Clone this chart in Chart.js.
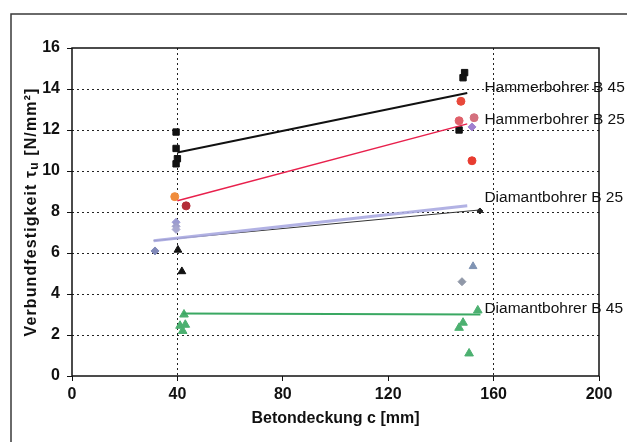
<!DOCTYPE html>
<html>
<head>
<meta charset="utf-8">
<script src="https://cdn.jsdelivr.net/npm/chart.js@4.4.0/dist/chart.umd.min.js"></script>
<style>
  html, body { margin: 0; padding: 0; background: #fff; }
</style>
</head>
<body>
<canvas id="chart" width="627" height="442"></canvas>
<script>
// Betondeckung c [mm] / Verbundfestigkeit tau_u [N/mm²]
const xTicks = [0, 40, 80, 120, 160, 200];
const yTicks = [0, 2, 4, 6, 8, 10, 12, 14, 16];

// Hammerbohrer B 45
const hb45X = [39.5, 39.5, 40, 39.5, 149, 148.4, 146.9];
const hb45Y = [11.9, 11.1, 10.6, 10.35, 14.8, 14.55, 12.0];
const hb45LineX = [40, 150];
const hb45LineY = [10.9, 13.8];

// Hammerbohrer B 25
const hb25X = [39, 43.3, 147.6, 146.9, 152.6, 151.8];
const hb25Y = [8.75, 8.3, 13.4, 12.45, 12.6, 10.5];
const hb25Colors = ['#f08c3c', '#b42c38', '#e8483a', '#e0606a', '#d4707e', '#e83c30'];
const hb25LineX = [40, 150];
const hb25LineY = [8.55, 12.3];

// Diamantbohrer B 25
const db25X = [39.5, 39.5, 39.5, 31.5, 151.8, 148];
const db25Y = [7.5, 7.3, 7.15, 6.1, 12.15, 4.6];
const db25Colors = ['#9a9ad2', '#a0a0cc', '#a8a8d0', '#8088b8', '#a080d0', '#9098a8'];
const db25DarkX = [40.2, 41.7];
const db25DarkY = [6.15, 5.1];
const db25EndX = [154.8];
const db25EndY = [8.05];
const db25GreyX = [152.2];
const db25GreyY = [5.35];
const db25LineX = [31, 150];
const db25LineY = [6.6, 8.3];
const db25DarkLineX = [31, 154.8];
const db25DarkLineY = [6.6, 8.1];

// Diamantbohrer B 45
const db45X = [42.5, 41, 43, 42, 154, 148.4, 146.9, 150.7];
const db45Y = [3.0, 2.45, 2.5, 2.2, 3.2, 2.6, 2.35, 1.1];
const db45LineX = [42, 155];
const db45LineY = [3.05, 3.0];

// series names written next to the trend lines
const seriesNames = ['Hammerbohrer B 45', 'Hammerbohrer B 25', 'Diamantbohrer B 25', 'Diamantbohrer B 45'];
const nameAnchorX = 156.5;
const nameAnchorY = [14.05, 12.5, 8.7, 3.27];

const FONT = '"Liberation Sans", Arial, sans-serif';

const toPoints = (xs, ys) => xs.map((x, i) => ({ x, y: ys[i] }));

const trend = (xs, ys, color, width) => ({
  type: 'line',
  data: toPoints(xs, ys),
  borderColor: color,
  borderWidth: width,
  pointRadius: 0,
  fill: false
});

const marks = (xs, ys, style, color, radius) => ({
  type: 'scatter',
  data: toPoints(xs, ys),
  pointStyle: style,
  backgroundColor: color,
  borderColor: color,
  borderWidth: 1,
  pointRadius: radius
});

const framePlugin = {
  id: 'frame',
  beforeDraw(chart) {
    const ctx = chart.ctx;
    ctx.save();
    ctx.strokeStyle = '#3a3a3a';
    ctx.lineWidth = 1.5;
    ctx.beginPath();
    ctx.moveTo(11, 442);
    ctx.lineTo(11, 14);
    ctx.lineTo(627, 14);
    ctx.stroke();
    ctx.restore();
  },
  afterDraw(chart) {
    const { ctx, chartArea: a, scales } = chart;
    ctx.save();
    ctx.strokeStyle = '#111';
    ctx.lineWidth = 1.5;
    ctx.strokeRect(a.left, a.top, a.width, a.height);

    ctx.fillStyle = '#111';
    ctx.font = '15.5px ' + FONT;
    ctx.textBaseline = 'middle';
    seriesNames.forEach((name, i) => {
      ctx.fillText(name, scales.x.getPixelForValue(nameAnchorX), scales.y.getPixelForValue(nameAnchorY[i]));
    });

    // y axis title with subscript
    const bold = 'bold 16px ' + FONT;
    const small = 'bold 12px ' + FONT;
    const parts = [
      { t: 'Verbundfestigkeit \u03c4', f: bold, dy: 0 },
      { t: 'u', f: small, dy: 3 },
      { t: ' [N/mm\u00b2]', f: bold, dy: 0 }
    ];
    ctx.letterSpacing = '1.1px';
    let total = 0;
    parts.forEach(p => { ctx.font = p.f; p.w = ctx.measureText(p.t).width; total += p.w; });
    ctx.translate(32, (a.top + a.bottom) / 2);
    ctx.rotate(-Math.PI / 2);
    ctx.textBaseline = 'middle';
    let x = -total / 2;
    parts.forEach(p => {
      ctx.font = p.f;
      ctx.fillText(p.t, x, p.dy);
      x += p.w;
    });
    ctx.restore();
  }
};

new Chart(document.getElementById('chart'), {
  type: 'scatter',
  data: {
    datasets: [
      trend(db25LineX, db25LineY, 'rgba(170,170,225,0.9)', 3),
      trend(db25DarkLineX, db25DarkLineY, '#333', 1),
      trend(hb45LineX, hb45LineY, '#111', 2),
      trend(hb25LineX, hb25LineY, '#e8204c', 1.5),
      trend(db45LineX, db45LineY, '#3aa862', 2),
      marks(hb45X, hb45Y, 'rect', '#111', 4.5),
      marks(hb25X, hb25Y, 'circle', hb25Colors, 4),
      marks(db25X, db25Y, 'rectRot', db25Colors, 4),
      marks(db25DarkX, db25DarkY, 'triangle', '#111', 4.5),
      marks(db25EndX, db25EndY, 'rectRot', '#222', 3),
      marks(db25GreyX, db25GreyY, 'triangle', '#8094b4', 4.5),
      marks(db45X, db45Y, 'triangle', '#4cb070', 5)
    ]
  },
  options: {
    responsive: false,
    animation: false,
    layout: { padding: { top: 48, right: 28, left: 0, bottom: 0 } },
    plugins: {
      legend: { display: false },
      tooltip: { enabled: false }
    },
    scales: {
      x: {
        type: 'linear',
        min: 0,
        max: 200,
        afterFit(scale) { scale.height = 66; },
        afterBuildTicks(scale) { scale.ticks = xTicks.map(v => ({ value: v })); },
        grid: {
          color: c => (c.tick && (c.tick.value === 40 || c.tick.value === 160)) ? '#222' : 'rgba(0,0,0,0)',
          tickColor: '#111',
          tickLength: 5,
          lineWidth: 1
        },
        border: { display: false, dash: [2, 3] },
        ticks: {
          color: '#111',
          padding: 4,
          font: { family: FONT, size: 16, weight: 'bold' }
        },
        title: {
          display: true,
          text: 'Betondeckung c [mm]',
          color: '#111',
          padding: { top: 4, bottom: 14 },
          font: { family: FONT, size: 16, weight: 'bold' }
        }
      },
      y: {
        type: 'linear',
        min: 0,
        max: 16,
        afterFit(scale) { scale.width = 72; },
        afterBuildTicks(scale) { scale.ticks = yTicks.map(v => ({ value: v })); },
        grid: {
          color: c => (c.tick && c.tick.value > 0 && c.tick.value < 16) ? '#222' : 'rgba(0,0,0,0)',
          tickColor: '#111',
          tickLength: 5,
          lineWidth: 1
        },
        border: { display: false, dash: [2, 3] },
        ticks: {
          color: '#111',
          padding: 7,
          font: { family: FONT, size: 16, weight: 'bold' }
        }
      }
    }
  },
  plugins: [framePlugin]
});
</script>
</body>
</html>
